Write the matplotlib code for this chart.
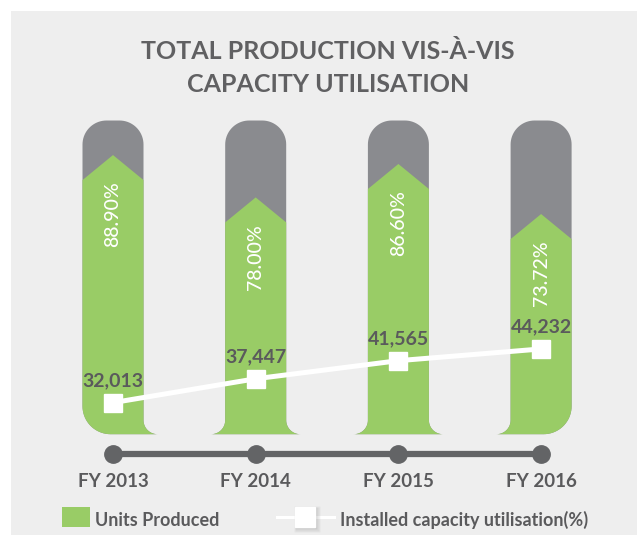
import numpy as np
import matplotlib
matplotlib.use("Agg")
import matplotlib.pyplot as plt
from matplotlib import font_manager
from matplotlib.patches import Polygon, Rectangle
from matplotlib.lines import Line2D

# Data
years = ["FY 2013", "FY 2014", "FY 2015", "FY 2016"]
utilisation = [88.90, 78.00, 86.60, 73.72]
units_produced = [32013, 37447, 41565, 44232]


def pick_font(names):
    for n in names:
        try:
            font_manager.findfont(font_manager.FontProperties(family=n),
                                  fallback_to_default=False)
            return n
        except ValueError:
            pass
    return "DejaVu Sans"


FONT = pick_font(["Liberation Sans Narrow", "Lato", "Open Sans"])
plt.rcParams["font.family"] = [FONT, "DejaVu Sans"]

GREEN = "#99cc66"
GREY = "#8a8b8f"
TEXT = "#5a5a5c"
BG = "#eeeeee"

W, H = 637, 535
fig = plt.figure(figsize=(W / 100, H / 100), dpi=100, facecolor="white")

# grey panel (white strip on top and left)
fig.patches.append(Rectangle((11 / W, 0), 1 - 11 / W, 1 - 11 / H,
                             transform=fig.transFigure, facecolor=BG,
                             edgecolor="none", zorder=-1))

# pixel layout of the axes
X0, DX = 113, 142.7          # pixel of first category, pixels per category
Y100, DY = 124.4, 3.887      # pixel of 100 %, pixels per percent
px_x = 1 / DX
px_y = 1 / DY

ax = fig.add_axes([0, 0, 1, 1])
ax.set_xlim(-X0 / DX, (W - X0) / DX)
ax.set_ylim(100 - (H - Y100) / DY, 100 + Y100 / DY)
ax.axis("off")
ax.patch.set_visible(False)

x = np.arange(len(years))

CAP_TOP = 101
BASE = 20.3
hw = 30.5 * px_x
rt, rb, fl = 24, 28, 14
bottom_styles = [("round", "flare"), ("flare", "flare"),
                 ("flare", "flare"), ("flare", "round")]


def arc(cx, cy, rx, ry, a0, a1, n=20):
    a = np.linspace(a0, a1, n)
    return list(zip(cx + rx * np.cos(a), cy + ry * np.sin(a)))


def capsule(cx, left, right):
    pts = []
    pts += arc(cx - hw + rt * px_x, CAP_TOP - rt * px_y, rt * px_x, rt * px_y, np.pi, np.pi / 2)
    pts += arc(cx + hw - rt * px_x, CAP_TOP - rt * px_y, rt * px_x, rt * px_y, np.pi / 2, 0)
    if right == "round":
        pts += arc(cx + hw - rb * px_x, BASE + rb * px_y, rb * px_x, rb * px_y, 0, -np.pi / 2)
    else:
        pts += arc(cx + hw + fl * px_x, BASE + fl * px_y, fl * px_x, fl * px_y, np.pi, 1.5 * np.pi)
    if left == "round":
        pts += arc(cx - hw + rb * px_x, BASE + rb * px_y, rb * px_x, rb * px_y, -np.pi / 2, -np.pi)
    else:
        pts += arc(cx - hw - fl * px_x, BASE + fl * px_y, fl * px_x, fl * px_y, -np.pi / 2, 0)
    return pts


chev = 12.5 * px_y
for i, p in enumerate(utilisation):
    left, right = bottom_styles[i]
    shell = Polygon(capsule(x[i], left, right), closed=True,
                    facecolor=GREY, edgecolor="none", zorder=2)
    ax.add_patch(shell)
    wide = hw + 30 * px_x
    fill = Polygon([(x[i] - wide, p - chev), (x[i] - hw, p - chev),
                    (x[i], p + chev), (x[i] + hw, p - chev),
                    (x[i] + wide, p - chev), (x[i] + wide, BASE - 2),
                    (x[i] - wide, BASE - 2)],
                   closed=True, facecolor=GREEN, edgecolor="none", zorder=3)
    ax.add_patch(fill)
    fill.set_clip_path(shell)
    ax.annotate(f"{p:.2f}%", (x[i], p - chev), xytext=(0, -1),
                textcoords="offset points", rotation=90, ha="center",
                va="top", color="white", fontsize=14, fontweight="medium",
                zorder=4)

# timeline with years
xt = ax.get_xaxis_transform()
ax.plot(x, [1 - 454 / H] * len(x), transform=xt, color="#636466", lw=4.5,
        marker="o", ms=12.5, clip_on=False, zorder=2)
for i, yr in enumerate(years):
    ax.text(x[i], 1 - 487 / H, yr, transform=xt, ha="center", va="baseline",
            fontsize=13.5, fontweight="bold", color=TEXT)

# units produced line
ax2 = ax.twinx()
ax2.set_position([0, 0, 1, 1])
ax2.set_ylim(1889, 123646)
ax2.axis("off")
ax2.plot(x, units_produced, color="white", lw=3.6, marker="s", ms=13.5,
         mfc="white", mec="white", zorder=5)
for i, v in enumerate(units_produced):
    ax2.annotate(f"{v:,}", (x[i], v), xytext=(0, 16),
                 textcoords="offset points", ha="center", va="center",
                 fontsize=14, fontweight="bold", color=TEXT, zorder=6)

# title
fig.text(328 / W, 1 - 59 / H, "TOTAL PRODUCTION VIS-À-VIS", ha="center",
         va="baseline", fontsize=18, fontweight="bold", color="#606062")
fig.text(328 / W, 1 - 92 / H, "CAPACITY UTILISATION", ha="center",
         va="baseline", fontsize=18, fontweight="bold", color="#606062")

# legend
fig.patches.append(Rectangle((62 / W, 1 - 527 / H), 28 / W, 20 / H,
                             transform=fig.transFigure, facecolor=GREEN,
                             edgecolor="none"))
fig.text(95 / W, 1 - 526 / H, "Units Produced", ha="left", va="baseline",
         fontsize=13, fontweight="bold", color=TEXT)
ly = 1 - 517 / H
fig.add_artist(Line2D([277 / W, 334 / W], [ly, ly], transform=fig.transFigure,
                      color="white", lw=2.2))
for k, a in zip([4, 3, 2], [0.05, 0.08, 0.1]):
    fig.add_artist(Line2D([(305 + k / 2) / W], [ly - k / 2 / H], transform=fig.transFigure,
                          marker="s", ms=14.4 + k, mfc="#555555", mec="none",
                          alpha=a, lw=0))
fig.add_artist(Line2D([305 / W], [ly], transform=fig.transFigure, marker="s",
                      ms=14.4, mfc="white", mec="white", lw=0))
fig.text(340 / W, 1 - 526 / H, "Installed capacity utilisation(%)", ha="left",
         va="baseline", fontsize=13, fontweight="bold", color=TEXT)

fig.savefig("out.png", dpi=100, facecolor=fig.get_facecolor())
